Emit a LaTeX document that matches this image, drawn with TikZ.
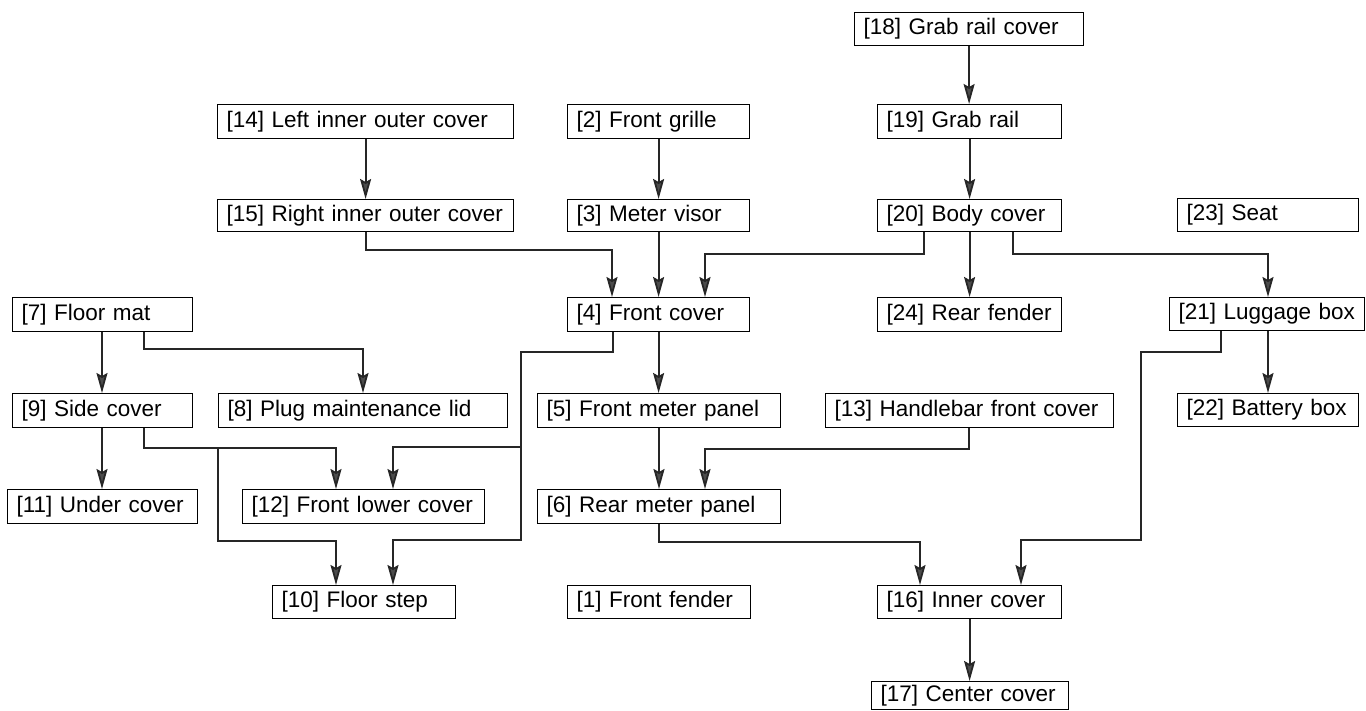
\documentclass[tikz,border=0pt]{standalone}
\usepackage{fontspec}
\setmainfont{Liberation Sans}
\usetikzlibrary{arrows.meta}
\tikzset{
  pbox/.style={draw=black, line width=1.2pt, anchor=north west, inner xsep=9pt, inner ysep=0pt,
    align=left, font=\fontsize{22.5}{24}\selectfont},
  conn/.style={draw=black!85, line width=1.8pt,
    -{Stealth[length=20pt,width=11pt,inset=3pt,fill=black!70]}},
}
\begin{document}
\begin{tikzpicture}[x=1pt,y=-1pt]
\useasboundingbox (0,0) rectangle (1366,711);
% row 1
\node[pbox, minimum width=229pt, minimum height=33pt, text width=211pt] (n18) at (854,12) {[18] Grab rail cover};
% row 2
\node[pbox, minimum width=296pt, minimum height=34pt, text width=278pt] (n14) at (217,104) {[14] Left inner outer cover};
\node[pbox, minimum width=182pt, minimum height=34pt, text width=164pt] (n2) at (567,104) {[2] Front grille};
\node[pbox, minimum width=184pt, minimum height=34pt, text width=166pt] (n19) at (877,104) {[19] Grab rail};
% row 3
\node[pbox, minimum width=296pt, minimum height=32pt, text width=278pt] (n15) at (217,199) {[15] Right inner outer cover};
\node[pbox, minimum width=182pt, minimum height=32pt, text width=164pt] (n3) at (567,199) {[3] Meter visor};
\node[pbox, minimum width=184pt, minimum height=32pt, text width=166pt] (n20) at (877,199) {[20] Body cover};
\node[pbox, minimum width=181pt, minimum height=33pt, text width=163pt] (n23) at (1177,198) {[23] Seat};
% row 4
\node[pbox, minimum width=180pt, minimum height=34pt, text width=162pt] (n7) at (12,297) {[7] Floor mat};
\node[pbox, minimum width=182pt, minimum height=34pt, text width=164pt] (n4) at (567,297) {[4] Front cover};
\node[pbox, minimum width=184pt, minimum height=34pt, text width=166pt] (n24) at (877,297) {[24] Rear fender};
\node[pbox, minimum width=195pt, minimum height=33pt, text width=177pt] (n21) at (1169,297) {[21] Luggage box};
% row 5
\node[pbox, minimum width=180pt, minimum height=34pt, text width=162pt] (n9) at (12,393) {[9] Side cover};
\node[pbox, minimum width=289pt, minimum height=34pt, text width=271pt] (n8) at (218,393) {[8] Plug maintenance lid};
\node[pbox, minimum width=243pt, minimum height=34pt, text width=225pt] (n5) at (537,393) {[5] Front meter panel};
\node[pbox, minimum width=288pt, minimum height=34pt, text width=270pt] (n13) at (825,393) {[13] Handlebar front cover};
\node[pbox, minimum width=181pt, minimum height=33pt, text width=163pt] (n22) at (1177,393) {[22] Battery box};
% row 6
\node[pbox, minimum width=190pt, minimum height=34pt, text width=172pt] (n11) at (7,489) {[11] Under cover};
\node[pbox, minimum width=242pt, minimum height=34pt, text width=224pt] (n12) at (242,489) {[12] Front lower cover};
\node[pbox, minimum width=243pt, minimum height=34pt, text width=225pt] (n6) at (537,489) {[6] Rear meter panel};
% row 7
\node[pbox, minimum width=183pt, minimum height=33pt, text width=165pt] (n10) at (272,585) {[10] Floor step};
\node[pbox, minimum width=183pt, minimum height=33pt, text width=165pt] (n1) at (567,585) {[1] Front fender};
\node[pbox, minimum width=184pt, minimum height=33pt, text width=166pt] (n16) at (877,585) {[16] Inner cover};
% row 8
\node[pbox, minimum width=197pt, minimum height=28pt, text width=179pt] (n17) at (871,681) {[17] Center cover};

% connectors
\draw[conn] (n18.south) -- (n18.south |- n19.north);
\draw[conn] (n19.south) -- (n19.south |- n20.north);
\draw[conn] (n14.south) -- (n14.south |- n15.north);
\draw[conn] (n2.south) -- (n2.south |- n3.north);
\draw[conn] (n15.south) -- ++(0,18) -| ([xshift=45pt]n4.north west);
\draw[conn] (n3.south) -- (n3.south |- n4.north);
\draw[conn] ([xshift=47pt]n20.south west) -- ++(0,22) -| ([xshift=138pt]n4.north west);
\draw[conn] (n20.south) -- (n20.south |- n24.north);
\draw[conn] ([xshift=136pt]n20.south west) -- ++(0,22) -| ([xshift=99pt]n21.north west);
\draw[conn] ([xshift=90pt]n7.south west) -- ([xshift=90pt]n9.north west);
\draw[conn] ([xshift=132pt]n7.south west) -- ++(0,17) -| ([xshift=145pt]n8.north west);
\draw[conn] (n4.south) -- (n4.south |- n5.north);
\draw[conn] ([xshift=46pt]n4.south west) -- ++(0,20) -- ++(-92,0) -- ++(0,95) -| ([xshift=151pt]n12.north west);
\draw[conn] ([xshift=46pt]n4.south west) -- ++(0,20) -- ++(-92,0) -- ++(0,188) -| ([xshift=121pt]n10.north west);
\draw[conn] ([xshift=90pt]n9.south west) -- ([xshift=95pt]n11.north west);
\draw[conn] ([xshift=132pt]n9.south west) -- ++(0,20) -| ([xshift=94pt]n12.north west);
\draw[conn] ([xshift=132pt]n9.south west) -- ++(0,20) -- ++(74,0) -- ++(0,93) -| ([xshift=64pt]n10.north west);
\draw[conn] ([xshift=122pt]n5.south west) -- ([xshift=122pt]n6.north west);
\draw[conn] ([xshift=144pt]n13.south west) -- ++(0,21) -| ([xshift=168pt]n6.north west);
\draw[conn] ([xshift=122pt]n6.south west) -- ++(0,18) -| ([xshift=43pt]n16.north west);
\draw[conn] ([xshift=52pt]n21.south west) -- ++(0,21) -- ++(-80,0) -- ++(0,188) -| ([xshift=144pt]n16.north west);
\draw[conn] ([xshift=99pt]n21.south west) -- ([xshift=91pt]n22.north west);
\draw[conn] (n16.south) -- (n16.south |- n17.north);
\end{tikzpicture}
\end{document}
